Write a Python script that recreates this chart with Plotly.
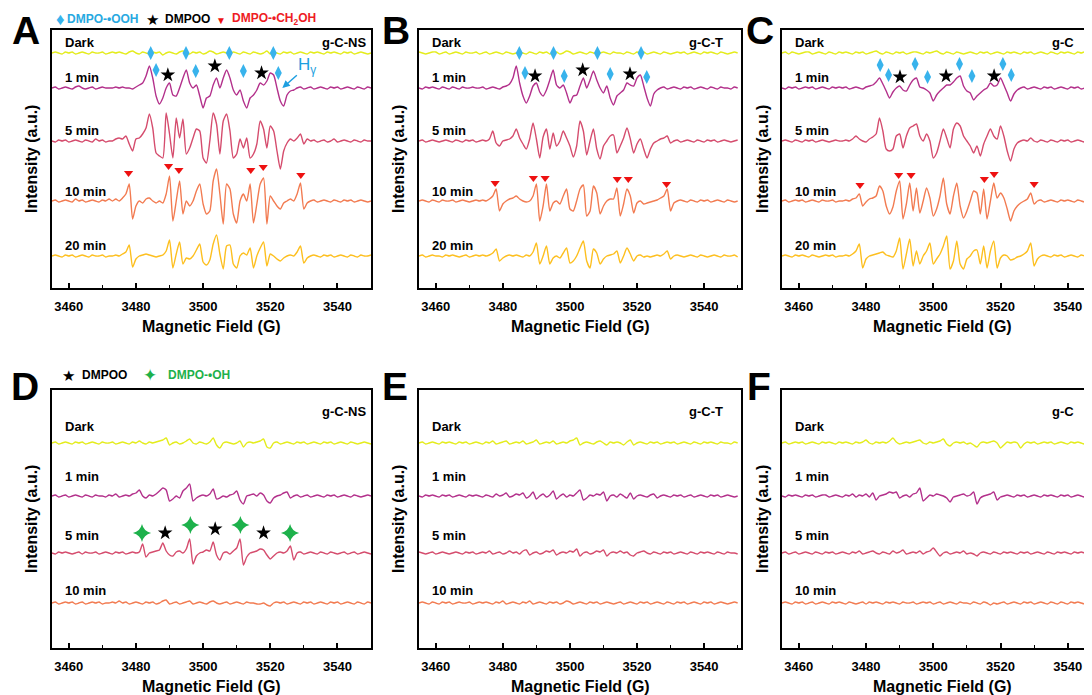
import numpy as np
import plotly.graph_objects as go

# ---------------- data : EPR spectra, 1 G steps starting at 3455 G ----------------
FIELD_START = 3455
FIELD_STEP = 1
TICK_VALUES = [3460, 3480, 3500, 3520, 3540]

# Panel A : g-C-NS (DMPO in methanol)
A_DARK = [0,1,0,-1,1,0,1,-1,0,1, 0,-1,1,0,0,1,-1,0,1,0, 1,0,-1,1,2,0,-1,1,0,-1, 1,0,1,-2,0,1,0,-1,1,2,
          0,-1,1,0,1,-1,0,2,1,-1, 0,1,0,-1,1,0,-1,1,0,-1, 1,0,-1,0,2,-1,1,0,-1,1, 0,1,-1,0,1,0,-1,1,0,1,
          0,-1,1,0,1,0,-1,1,0,1, -1,0,1,0,-1,0]
A_1MIN = [0,1,-1,0,1,0,-1,1,2,0, -1,0,1,-1,0,1,0,0,0,1, 0,1,0,0,-1,1,3,5,12,22, 10,-8,-16,-10,0,5,-7,-8,0,10,
          18,5,0,3,-8,-20,-10,-8,3,10, 0,10,18,10,-2,-7,-2,-13,-20,-10, -7,-2,5,3,7,15,13,0,-13,-18, -7,-3,-2,0,1,-1,0,1,-1,0,
          1,0,-1,1,0,1,-1,0,1,0, -1,1,0,-1,1,0]
A_5MIN = [0,-1,1,0,1,-1,0,1,0,-1, 1,0,-1,2,0,1,-1,0,0,2, 3,2,5,-3,-10,2,3,7,13,27, 13,-12,-15,-17,28,7,-17,23,3,22,
          -13,-7,3,12,10,-17,-22,0,28,17, -13,20,27,10,-17,-13,2,-7,3,-17, -13,-3,20,12,-7,15,10,-10,-28,-10, -2,2,0,3,7,-3,2,0,1,-1,
          0,1,-1,0,2,-1,0,1,0,-1, 1,0,-1,1,0,0]
A_10MIN = [0,1,-1,0,1,0,-1,2,0,1, -1,0,1,0,-1,1,0,2,0,2, 0,3,7,17,-18,-5,0,-2,2,3, 0,-2,0,-2,7,25,-20,0,20,-13,
           0,-5,0,10,17,-3,-13,-10,20,32, 7,-23,17,12,-13,-22,0,7,0,17, -22,-3,17,23,-23,5,0,-5,-8,-2, 0,2,0,7,18,-8,-2,0,1,-1,
           0,1,0,-1,1,0,-1,1,0,1, -1,0,1,0,-1,0]
A_20MIN = [0,1,0,-1,1,0,1,-1,0,1, 0,-1,1,0,0,1,-1,0,0,1, 0,2,4,11,-11,-3,0,1,2,1, 0,-1,0,1,5,16,-12,2,14,-8,
           -2,-3,0,6,12,-6,-9,-4,12,21, 2,-13,10,11,-8,-12,0,3,1,8, -12,0,8,14,-10,2,0,-3,-5,-2, 0,1,0,4,10,-7,-2,0,1,0,
           -1,1,0,1,-1,0,1,0,-1,1, 0,-1,1,0,0,1]

# Panel B : g-C-T
B_DARK = [1,0,-1,0,1,1,-1,0,1,-1, 0,1,0,-1,1,0,0,1,-1,0, 1,-1,0,1,0,-1,1,0,-1,0, 1,0,-1,1,0,-1,1,0,1,-1,
          0,1,-1,0,2,1,-1,0,1,0, -1,1,0,-1,0,1,0,-1,1,0, 0,-1,1,0,-1,1,0,1,-1,0, 1,0,-1,1,0,-1,0,1,0,1,
          -1,0,1,0,-1,1,0,1,0,-1, 1,0,-1,0,1,0]
B_1MIN = [0,-1,1,0,1,0,-1,1,0,-1, 1,0,-1,1,0,0,1,0,0,1, -1,0,1,0,-1,1,2,4,10,22, 5,-8,-15,-8,2,5,-4,-8,-2,8,
          18,3,0,3,-5,-15,-8,-7,2,10, 0,8,17,8,0,-5,2,-10,-17,-8, -5,-2,5,3,2,10,13,2,-10,-18, -6,-2,0,1,-1,0,1,0,-1,1,
          0,1,-1,0,1,0,-1,1,0,-1, 1,0,0,-1,1,0]
B_5MIN = [0,1,-1,0,1,0,-1,0,1,0, -1,1,0,-1,1,0,1,-1,0,1, 0,2,10,-2,-5,0,1,2,5,12, 3,-3,-8,2,18,2,-17,4,12,-8,
          8,-5,0,10,3,-5,-16,-5,20,10, -14,0,12,-8,-18,-5,0,5,6,-12, -5,3,13,2,-12,-3,2,-8,-17,-8, -2,0,2,3,5,-2,0,1,-1,0,
          1,0,-1,1,0,-1,1,0,1,-1, 0,1,0,-1,0,1]
B_10MIN = [0,1,0,-1,1,0,-1,1,0,0, 1,-1,0,1,0,-1,0,1,0,1, 0,2,5,12,-10,-3,0,2,3,5, 2,0,-1,0,5,17,-20,-5,17,-10,
           -2,0,-3,5,12,-8,-10,0,12,16, -15,-10,15,8,-13,-5,0,2,2,13, -15,-3,12,5,-12,-2,0,-3,-2,-1, 0,1,3,5,12,-10,-2,0,1,0,
           -1,1,0,-1,1,0,1,-1,0,1, 0,-1,1,0,-1,0]
B_20MIN = [0,1,-1,0,1,0,0,-1,1,0, 1,0,-1,0,1,-1,0,1,0,1, 0,1,3,7,-5,-2,0,1,0,1, 0,-1,1,0,4,13,-8,0,10,-8,
           -2,0,-2,3,8,-7,-5,0,8,15, -5,-12,7,3,-8,-3,0,1,2,5, -7,0,8,2,-5,0,1,-1,0,-1, 0,1,0,2,5,-3,0,1,0,-1,
           0,1,0,-1,1,0,-1,0,1,0, -1,1,0,0,1,-1]

# Panel C : g-C
C_DARK = [0,1,-1,1,0,-1,0,1,1,-1, 0,1,0,-1,1,0,-1,1,0,1, 0,-1,1,0,1,-1,0,1,2,0, -1,1,0,-1,1,0,1,-1,0,1,
          1,0,-1,1,0,1,2,0,-1,1, 0,-1,1,0,-1,0,1,0,-1,1, 0,1,-1,0,1,0,-1,1,0,1, 0,-1,1,0,1,-1,0,1,0,-1,
          1,0,-1,1,0,1,0,-1,1,0, 1,-1,0,1,0,0]
C_1MIN = [0,-1,1,0,1,-1,0,1,0,1, -1,0,1,0,-1,1,0,1,0,1, -1,0,1,0,-1,1,2,3,6,10, 4,-3,-10,-4,0,2,-2,-3,3,8,
          10,1,0,-2,-5,-13,-7,-3,0,3, 3,6,10,12,2,-3,-5,-12,-8,-5, -2,0,5,2,3,10,3,-5,-13,-6, -2,0,1,-1,0,1,0,-1,1,0,
          1,-1,0,1,0,-1,1,0,1,-1, 0,1,0,-1,1,0]
C_5MIN = [0,1,0,-1,1,0,-1,1,0,1, -1,0,1,0,-1,0,1,0,0,1, 0,2,5,2,0,-1,2,4,7,23, 10,-8,-10,-8,5,7,-7,5,13,15,
          17,5,0,7,0,-17,-12,0,12,3, -7,12,18,15,5,0,-5,-12,-5,-15, -3,5,12,5,2,15,5,-10,-20,-8, -2,0,1,0,3,0,-1,1,0,-1,
          1,0,-1,1,0,1,-1,0,1,0, -1,1,0,0,-1,1]
C_10MIN = [0,1,-1,0,1,0,1,-1,0,1, 0,-1,1,0,0,1,-1,0,0,1, 0,2,3,7,-5,-1,2,3,5,15, 10,-5,-13,-6,10,20,-18,-3,18,-10,
           13,-12,0,13,3,-15,-8,5,23,-3, -13,5,18,-5,-17,-10,0,10,8,-13, 12,-18,0,18,3,8,3,-8,-20,-10, -5,-2,0,2,8,-3,0,1,-1,0,
           1,0,-1,1,0,1,0,-1,1,0, -1,0,1,0,1,-1]
C_20MIN = [0,1,0,-1,1,0,1,0,-1,1, 0,-1,0,1,0,1,-1,0,0,1, 0,2,5,12,-12,-3,0,1,2,3, 4,1,0,-1,5,18,-13,2,17,-10,
           5,-8,0,5,13,-8,-3,2,10,20, -13,-5,15,-8,-13,-3,0,5,6,-8, 10,-12,5,15,-12,-2,1,0,-4,-3, -1,0,2,5,13,-10,-3,0,1,0,
           -1,1,0,1,-1,0,1,0,-1,1, 0,-1,1,0,0,1]

# Panel D : g-C-NS (DMPO in water)
D_DARK = [0,1,-1,0,1,0,-1,1,0,1, -1,0,1,0,-1,1,0,0,1,-1, 0,1,0,-1,1,0,2,0,-1,1, 0,1,2,3,5,-2,0,1,-1,0,
          2,4,0,-1,1,0,-1,1,5,-2, -5,0,1,0,-1,0,2,-4,0,1, 0,1,2,4,-4,-5,0,1,-1,0, 1,0,-1,1,0,1,-1,0,1,0,
          -1,1,0,1,-1,0,1,0,-1,1, 0,-1,0,1,0,-1]
D_1MIN = [0,1,-1,0,1,-1,0,1,0,-1, 1,0,-1,1,0,0,-1,1,0,2, -1,0,1,0,2,3,6,0,-2,1, 0,2,5,8,6,-5,-3,0,-2,5,
          8,12,-5,-2,0,1,0,2,7,-3, -2,0,-1,1,2,5,-4,-8,0,1, 2,0,3,1,-5,-7,-2,0,1,3, 4,-2,0,1,-1,0,1,-1,0,1,
          0,-1,1,0,1,-1,0,1,0,-1, 1,0,-1,0,1,0]
D_5MIN = [0,-1,1,0,1,0,-1,0,1,-1, 1,0,0,1,-1,0,1,0,-1,1, 0,1,-1,0,1,0,1,9,-4,0, 1,2,3,10,2,-2,-3,1,2,0,
          4,14,-11,-3,0,1,3,2,11,-2, -7,0,1,-1,2,5,14,-12,-4,0, 1,2,4,3,-2,-6,-3,0,1,0, 2,7,-7,0,1,-1,0,1,0,-1,
          1,0,-1,1,0,-1,0,1,-1,0, 1,-1,0,1,0,-1]
D_10MIN = [0,1,-1,0,1,0,1,-1,0,1, -1,0,1,0,1,-1,0,0,1,0, 2,0,1,-1,0,1,0,-1,1,0, 1,-1,0,2,3,-1,0,1,-1,0,
           1,2,-1,0,1,0,-1,1,2,0, -1,0,1,-1,0,1,0,-1,1,0, 0,-1,-1,0,-2,-3,0,1,0,1, -1,0,1,0,-1,1,0,1,-1,0,
           1,0,-1,1,0,1,-1,0,1,0, -1,1,0,-1,1,0]

# Panel E : g-C-T (DMPO in water)
E_DARK = [0,1,-1,0,1,0,-1,1,0,1, 0,-1,1,0,1,-1,0,1,0,-1, 1,0,2,-1,0,1,2,-1,0,1, 0,2,-1,0,1,3,-1,0,1,0,
          2,-1,0,1,0,2,3,5,-2,0, 1,0,-1,1,2,0,-2,1,0,1, 0,-2,1,3,-2,0,1,0,-1,1, 0,1,-1,0,1,0,1,-1,0,1,
          0,-1,1,0,-1,1,0,1,0,-1, 1,0,0,-1,1,0]
E_1MIN = [0,-1,1,0,1,0,-1,1,0,1, -1,0,1,0,-1,1,0,1,0,-1, 1,0,-1,2,0,1,3,-1,0,2, 1,3,-2,0,4,-3,0,2,-1,1,
          5,-3,0,2,-1,1,0,3,6,-4, -2,1,0,2,1,4,-5,0,1,-1, 2,0,-2,3,-3,0,1,0,-1,1, 2,-2,0,1,0,-1,1,0,1,-1,
          0,1,-1,0,1,0,-1,1,0,1, -1,0,1,0,-1,0]
E_5MIN = [1,0,-1,0,1,-1,0,1,0,-1, 0,1,0,-1,1,0,1,-1,0,1, 0,2,-1,0,1,-1,0,2,0,1, -1,2,3,-2,0,1,-1,0,2,1,
          3,-2,0,1,0,2,1,4,-3,0, 1,-1,0,2,1,3,-3,0,1,0, 2,0,1,-2,-3,0,1,2,0,-1, 1,0,-1,1,0,1,-1,0,1,0,
          -1,1,0,-1,1,0,1,0,-1,1, 0,-1,1,0,0,-1]
E_10MIN = [0,1,0,-1,1,0,-1,1,0,1, -1,0,1,0,0,1,-1,0,1,0, 1,0,-1,1,0,2,-1,0,1,0, -1,1,0,2,-1,0,1,0,-1,1,
           0,1,-1,0,2,1,-1,0,1,0, -1,1,0,1,-1,0,1,0,-1,0, 1,-1,0,1,0,-1,1,0,1,-1, 0,1,0,-1,1,0,-1,1,0,1,
           -1,0,1,0,-1,1,0,1,-1,0, 1,0,-1,0,1,0]

# Panel F : g-C (DMPO in water)
F_DARK = [0,1,-1,0,1,0,1,-1,0,1, 0,-1,1,0,1,0,-1,1,0,1, 0,-1,1,0,1,3,0,-1,1,0, 1,0,2,5,1,-1,0,1,0,1,
          2,3,0,-1,1,0,1,2,4,-1, -3,0,1,0,1,-1,0,-2,-4,0, 1,0,1,2,0,-5,-2,1,0,1, 0,-5,-1,1,0,1,-1,0,1,0,
          1,-1,0,1,0,-1,1,0,1,0, -1,1,0,1,-1,0]
F_1MIN = [0,-1,1,0,1,0,-1,1,0,1, -1,0,1,1,-1,0,1,0,-1,1, 0,2,-1,1,0,2,-1,3,-4,0, 1,2,4,3,4,-2,0,1,-1,2,
          3,8,-5,-2,1,0,2,1,0,-2, -6,-1,0,1,2,0,1,4,-8,-2, 0,1,2,4,-4,-1,0,1,0,-1, 1,0,1,-1,0,1,0,-1,1,0,
          1,0,-1,1,0,1,-1,0,1,0, -1,1,0,1,-1,0]
F_5MIN = [0,1,-1,0,1,-1,0,1,0,-1, 1,0,-1,1,0,1,-1,0,1,0, -1,1,0,2,-1,0,1,2,0,-1, 1,0,-1,2,0,1,3,-1,0,1,
          0,2,-1,1,2,5,1,-3,0,1, -1,0,1,0,2,-1,0,-1,-3,0, 1,0,-1,1,0,-1,1,0,1,0, -1,1,0,1,-1,0,1,0,-1,1,
          0,-1,1,0,1,0,-1,1,0,1, 0,-1,0,1,0,-1]
F_10MIN = [0,1,0,-1,1,0,1,-1,0,1, -1,0,1,0,-1,1,0,1,0,-1, 1,0,-1,0,1,-1,1,0,1,0, -1,1,0,1,0,-1,1,0,0,1,
           -1,0,1,0,1,-1,0,1,-1,0, 1,0,-1,1,0,0,-1,1,0,-1, 1,0,-2,0,-1,0,1,-1,0,1, 0,-1,1,0,1,-1,0,1,0,-1,
           1,0,-1,1,0,-1,1,0,1,0, -1,0,1,0,-1,1]

# Spin-adduct peak assignments (field in G, height in a.u.)
A_OOH_X = [3484.4, 3494.9, 3507.8, 3520.9, 3486.0, 3497.8, 3512.0, 3522.4]
A_OOH_Y = [235, 235, 235, 235, 218, 217, 217, 215]
A_DMPOO_X = [3489.5, 3503.5, 3517.4]
A_DMPOO_Y = [213, 222, 215]
A_CH2OH_X = [3477.8, 3489.7, 3492.8, 3514.2, 3517.9, 3529.1]
A_CH2OH_Y = [115, 122, 118, 118, 121, 113]

B_OOH_X = [3484.9, 3495.1, 3508.2, 3521.2, 3486.6, 3498.3, 3512.0, 3522.9]
B_OOH_Y = [235, 235, 235, 235, 215, 212, 214, 211]
B_DMPOO_X = [3489.6, 3503.8, 3517.9]
B_DMPOO_Y = [212, 218, 214]
B_CH2OH_X = [3477.7, 3489.1, 3492.6, 3514.1, 3517.4, 3528.8]
B_CH2OH_Y = [105, 110, 110, 109, 109, 104]

C_OOH_X = [3484.2, 3494.6, 3507.8, 3520.7, 3486.7, 3498.3, 3511.5, 3523.2]
C_OOH_Y = [223, 224, 224, 224, 213, 211, 212, 213]
C_DMPOO_X = [3490.1, 3503.8, 3518.1]
C_DMPOO_Y = [211, 212, 212]
C_CH2OH_X = [3478.2, 3489.7, 3493.4, 3515.2, 3518.1, 3530.0]
C_CH2OH_Y = [103, 113, 113, 109, 114, 104]

D_OH_X = [3481.8, 3496.2, 3511.1, 3525.9]
D_OH_Y = [115, 123, 123, 115]
D_DMPOO_X = [3488.7, 3503.6, 3518.0]
D_DMPOO_Y = [115, 119, 115]

# ---------------- styling ----------------
FONT = "Liberation Sans, Arial, Helvetica, sans-serif"
W, H = 1092, 695
PAGE_MARGIN = 8          # the html body margin shifts the figure by this many pixels


def paper_x(px):
    return (px - PAGE_MARGIN) / W


def paper_y(py):
    return 1 - (py - PAGE_MARGIN) / H


COLORS = {"Dark": "#E4EC1C", "1 min": "#B3308B", "5 min": "#D54C6D",
          "10 min": "#F27B51", "20 min": "#FDBF1F"}
TOP_OFFSETS = {"Dark": 235, "1 min": 200, "5 min": 147, "10 min": 87, "20 min": 32}
TOP_LABEL_Y = {"Dark": 245, "1 min": 210, "5 min": 157, "10 min": 96, "20 min": 42}
BOT_OFFSETS = {"Dark": 205, "1 min": 152, "5 min": 95, "10 min": 45}
BOT_LABEL_Y = {"Dark": 221, "1 min": 171, "5 min": 113, "10 min": 58}
BLUE, RED, GREEN = "#38B3EC", "#EE1111", "#1DB14B"

TOP_DOM = (paper_y(288), paper_y(30))
BOT_DOM = (paper_y(648), paper_y(390))

panels = [
    dict(letter="A", sample="g-C-NS", row="top", px=(52, 371), xr=(3455, 3550), mirror=True,
         spectra={"Dark": A_DARK, "1 min": A_1MIN, "5 min": A_5MIN, "10 min": A_10MIN, "20 min": A_20MIN},
         marks=[(A_OOH_X, A_OOH_Y, "diamond-tall", 10, BLUE), (A_DMPOO_X, A_DMPOO_Y, "star", 11, "black"),
                (A_CH2OH_X, A_CH2OH_Y, "triangle-down", 8, RED)],
         letter_xy=(26, 31), ytitle_x=31, xtitle_x=211),
    dict(letter="B", sample="g-C-T", row="top", px=(419, 741), xr=(3455, 3551), mirror=True,
         spectra={"Dark": B_DARK, "1 min": B_1MIN, "5 min": B_5MIN, "10 min": B_10MIN, "20 min": B_20MIN},
         marks=[(B_OOH_X, B_OOH_Y, "diamond-tall", 10, BLUE), (B_DMPOO_X, B_DMPOO_Y, "star", 11, "black"),
                (B_CH2OH_X, B_CH2OH_Y, "triangle-down", 8, RED)],
         letter_xy=(396, 31), ytitle_x=398, xtitle_x=580),
    dict(letter="C", sample="g-C", row="top", px=(782, 1100), xr=(3455, 3549.6), mirror=False,
         spectra={"Dark": C_DARK, "1 min": C_1MIN, "5 min": C_5MIN, "10 min": C_10MIN, "20 min": C_20MIN},
         marks=[(C_OOH_X, C_OOH_Y, "diamond-tall", 10, BLUE), (C_DMPOO_X, C_DMPOO_Y, "star", 11, "black"),
                (C_CH2OH_X, C_CH2OH_Y, "triangle-down", 8, RED)],
         letter_xy=(760, 31), ytitle_x=762, xtitle_x=942),
    dict(letter="D", sample="g-C-NS", row="bot", px=(52, 371), xr=(3455, 3550), mirror=True,
         spectra={"Dark": D_DARK, "1 min": D_1MIN, "5 min": D_5MIN, "10 min": D_10MIN},
         marks=[(D_OH_X, D_OH_Y, "star-diamond", 13, GREEN), (D_DMPOO_X, D_DMPOO_Y, "star", 11, "black")],
         letter_xy=(25, 386), ytitle_x=31, xtitle_x=211),
    dict(letter="E", sample="g-C-T", row="bot", px=(419, 741), xr=(3455, 3551), mirror=True,
         spectra={"Dark": E_DARK, "1 min": E_1MIN, "5 min": E_5MIN, "10 min": E_10MIN},
         marks=[], letter_xy=(395, 386), ytitle_x=398, xtitle_x=580),
    dict(letter="F", sample="g-C", row="bot", px=(782, 1100), xr=(3455, 3549.6), mirror=False,
         spectra={"Dark": F_DARK, "1 min": F_1MIN, "5 min": F_5MIN, "10 min": F_10MIN},
         marks=[], letter_xy=(759, 386), ytitle_x=762, xtitle_x=942),
]

fig = go.Figure()
annotations = []
layout = {}


def bold(t):
    return "<b>" + t + "</b>"


for i, p in enumerate(panels, start=1):
    sx = "" if i == 1 else str(i)
    xref, yref = "x" + sx, "y" + sx
    top = p["row"] == "top"
    offsets = TOP_OFFSETS if top else BOT_OFFSETS
    label_y = TOP_LABEL_Y if top else BOT_LABEL_Y

    for name, vals in p["spectra"].items():
        y = np.asarray(vals, dtype=float)
        x = FIELD_START + FIELD_STEP * np.arange(len(y))
        fig.add_trace(go.Scatter(x=x, y=y + offsets[name], mode="lines", xaxis=xref, yaxis=yref,
                                 line=dict(color=COLORS[name], width=1.4, shape="spline", smoothing=0.6),
                                 hoverinfo="skip"))
        annotations.append(dict(x=3458.3, y=label_y[name], xref=xref, yref=yref, text=bold(name),
                                showarrow=False, xanchor="left", yanchor="middle",
                                font=dict(family=FONT, size=13, color="black")))
    for mx, my, sym, size, col in p["marks"]:
        fig.add_trace(go.Scatter(x=mx, y=my, mode="markers", xaxis=xref, yaxis=yref,
                                 marker=dict(symbol=sym, size=size, color=col, line=dict(width=0)),
                                 hoverinfo="skip", cliponaxis=False))

    annotations.append(dict(x=3534.8, y=245 if top else 236, xref=xref, yref=yref, text=bold(p["sample"]),
                            showarrow=False, xanchor="left", yanchor="middle",
                            font=dict(family=FONT, size=13, color="black")))

    layout["xaxis" + sx] = dict(
        domain=[paper_x(p["px"][0]), min(1.0, paper_x(p["px"][1]))], range=list(p["xr"]), anchor=yref,
        showline=True, linecolor="black", linewidth=2, mirror=True,
        ticks="inside", ticklen=5, tickwidth=1.5, tickcolor="black",
        tickmode="array", tickvals=TICK_VALUES, ticklabelstandoff=5,
        minor=dict(ticks="inside", ticklen=3, tickwidth=1.2, tickcolor="black", tickmode="linear",
                   tick0=3450, dtick=10),
        tickfont=dict(family=FONT, size=13, color="black", weight="bold"),
        showgrid=False, zeroline=False, fixedrange=True)
    layout["yaxis" + sx] = dict(
        domain=list(TOP_DOM if top else BOT_DOM), range=[0, 258], anchor=xref,
        showline=True, linecolor="black", linewidth=2, mirror=p["mirror"],
        ticks="", showticklabels=False, showgrid=False, zeroline=False, fixedrange=True)

    ly, ty, yt = (p["letter_xy"][1], 326 if top else 686, 159 if top else 519)
    annotations.append(dict(x=paper_x(p["letter_xy"][0]), y=paper_y(ly), xref="paper", yref="paper",
                            text=bold(p["letter"]), showarrow=False, xanchor="center", yanchor="middle",
                            font=dict(family=FONT, size=39, color="black")))
    annotations.append(dict(x=paper_x(p["xtitle_x"]), y=paper_y(ty), xref="paper", yref="paper",
                            text=bold("Magnetic Field (G)"), showarrow=False, xanchor="center",
                            yanchor="middle", font=dict(family=FONT, size=16, color="black")))
    annotations.append(dict(x=paper_x(p["ytitle_x"]), y=paper_y(yt), xref="paper", yref="paper",
                            text=bold("Intensity (a.u.)"), showarrow=False, textangle=-90,
                            xanchor="center", yanchor="middle",
                            font=dict(family=FONT, size=16, color="black")))

# H-gamma pointer in panel A
annotations.append(dict(x=3523.6, y=200, xref="x", yref="y", ax=25, ay=-22,
                        text="H<sub>γ</sub>", showarrow=True, arrowhead=2, arrowsize=1, arrowwidth=1.5,
                        arrowcolor="#1E9FE0", font=dict(family=FONT, size=17, color="#1E9FE0")))


def key(px, py, txt, col, size, anchor="left"):
    annotations.append(dict(x=paper_x(px), y=paper_y(py), xref="paper", yref="paper", text=txt,
                            showarrow=False, xanchor=anchor, yanchor="middle",
                            font=dict(family=FONT, size=size, color=col)))


# header keys
key(60, 19, "♦", BLUE, 17, "center")
key(65, 19, bold("DMPO-•OOH"), "#27A9E1", 12)
key(152, 19, "★", "black", 15, "center")
key(163, 19, bold("DMPOO"), "black", 12)
key(221, 20, "▼", RED, 10, "center")
key(230, 19, bold("DMPO-•CH<sub>2</sub>OH"), "#EE1C25", 12)
key(68, 375, "★", "black", 15, "center")
key(80, 375, bold("DMPOO"), "black", 12)
key(150, 375, "✦", GREEN, 17, "center")
key(166, 375, bold("DMPO-•OH"), GREEN, 12)

fig.update_layout(width=W, height=H, margin=dict(l=0, r=0, t=0, b=0),
                  paper_bgcolor="white", plot_bgcolor="white", showlegend=False,
                  annotations=annotations, **layout)

fig.write_html("out.html")
